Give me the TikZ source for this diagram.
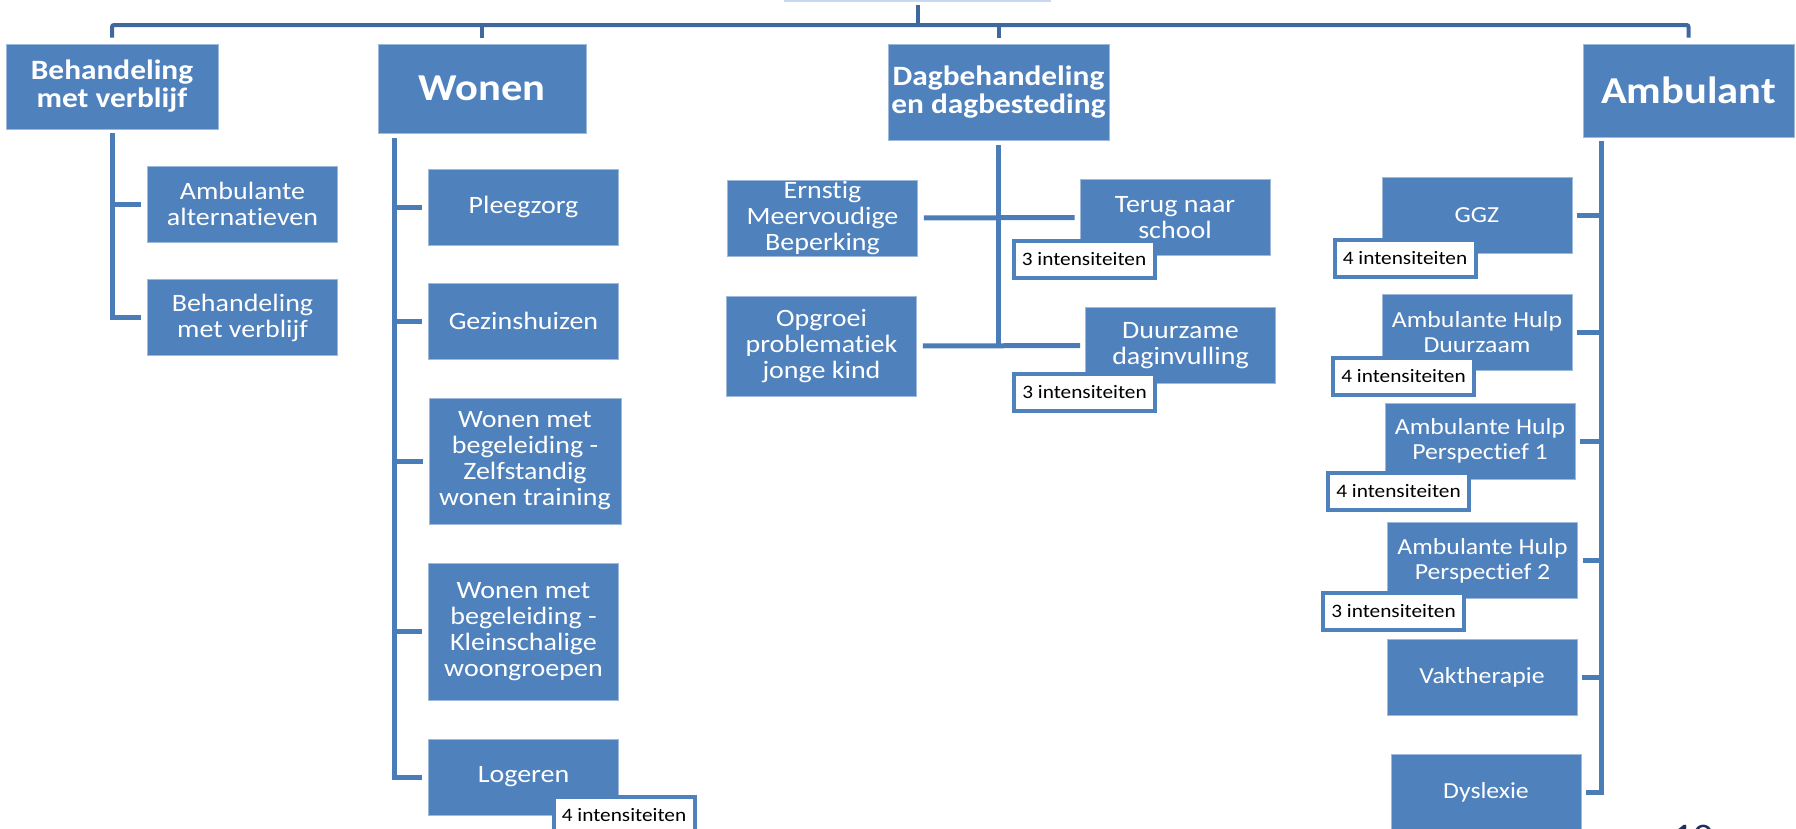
\documentclass[tikz,border=0pt]{standalone}
\usepackage{fontspec}
\setmainfont{Carlito}[FakeStretch=1.12, Ligatures=NoCommon]
\usepackage{tikz}
\usetikzlibrary{calc}
\definecolor{boxblue}{RGB}{79,129,189}
\definecolor{lineblue}{RGB}{74,124,184}
\definecolor{topblue}{RGB}{62,104,158}
\definecolor{rootblue}{RGB}{198,217,241}
\definecolor{navy}{RGB}{31,45,96}

\begin{document}
\begin{tikzpicture}[x=1pt, y=-1pt, line join=miter]
	\tikzstyle{box}=[rectangle, fill=boxblue, draw=boxblue!55!white, line width=0.8pt, text=white, align=center, inner sep=0pt, minimum width=190pt, minimum height=76pt, font=\fontsize{25}{26}\selectfont]
	\tikzstyle{abox}=[box, font=\fontsize{23}{25}\selectfont]
	\tikzstyle{head}=[box, font=\bfseries\fontsize{28}{28}\selectfont]
	\tikzstyle{bighead}=[box, font=\bfseries\fontsize{38}{40}\selectfont]
	\tikzstyle{badge}=[rectangle, fill=white, draw=boxblue, line width=4pt, text=black, inner sep=0pt, minimum width=141pt, minimum height=37pt, font=\fontsize{19}{20}\selectfont]
	\tikzstyle{conn}=[lineblue, line width=5pt]
	\tikzstyle{bus}=[topblue, line width=4pt, rounded corners=2pt]

	\useasboundingbox (0,0) rectangle (1796,828);
	\clip (0,0) rectangle (1796,828);

	\node[box, draw=rootblue, fill=white, line width=1.5pt, minimum width=265pt, minimum height=60pt] (root) at (917.5,-29) {};
	\node[head, minimum width=212pt, minimum height=85pt] (bmv) at (112,86.5) {Behandeling\\met verblijf};
	\node[bighead, minimum width=208pt, minimum height=89pt] (won) at (482,88.5) {Wonen};
	\node[head, minimum width=221pt, minimum height=96pt] (dag) at (998.5,92) {Dagbehandeling\\en dagbesteding};
	\node[bighead, minimum width=211pt, minimum height=93pt] (amb) at (1688.5,90.5) {Ambulant};

	\node[box] (bmv1) at (242.5,204) {Ambulante\\alternatieven};
	\node[box] (bmv2) at (242.5,317.5) {Behandeling\\met verblijf};

	\node[box] (won1) at (523.5,207) {Pleegzorg};
	\node[box] (won2) at (523.5,321) {Gezinshuizen};
	\node[box, minimum width=192pt, minimum height=126pt] (won3) at (525,461) {Wonen met\\begeleiding -\\Zelfstandig\\wonen training};
	\node[box, minimum height=137pt] (won4) at (523.5,631.5) {Wonen met\\begeleiding -\\Kleinschalige\\woongroepen};
	\node[box] (won5) at (523.5,777) {Logeren};

	\node[box] (dag1) at (822.5,218) {Ernstig\\Meervoudige\\Beperking};
	\node[box, minimum height=100pt] (dag2) at (821.5,346) {Opgroei\\problematiek\\jonge kind};
	\node[box] (dag3) at (1175,217.5) {Terug naar\\school};
	\node[box] (dag4) at (1180.5,345.5) {Duurzame\\daginvulling};

	\node[abox] (amb1) at (1477,215) {GGZ};
	\node[abox] (amb2) at (1477,332.5) {Ambulante Hulp\\Duurzaam};
	\node[abox] (amb3) at (1480,441) {Ambulante Hulp\\Perspectief 1};
	\node[abox] (amb4) at (1482.5,560.5) {Ambulante Hulp\\Perspectief 2};
	\node[abox] (amb5) at (1482,677.5) {Vaktherapie};
	\node[abox] (amb6) at (1486,792) {Dyslexie};

	\node[badge] (won5i) at (624,815) {4 intensiteiten};
	\node[badge] (dag3i) at (1084,259.5) {3 intensiteiten};
	\node[badge] (dag4i) at (1084.5,392) {3 intensiteiten};
	\node[badge] (amb1i) at (1405,258.5) {4 intensiteiten};
	\node[badge] (amb2i) at (1403.5,376) {4 intensiteiten};
	\node[badge] (amb3i) at (1398.5,491.5) {4 intensiteiten};
	\node[badge] (amb4i) at (1393.5,611) {3 intensiteiten};

	\node[text=navy, font=\fontsize{36}{36}\selectfont, anchor=base] (pnum) at (1693,848) {10};

	% top level
	\coordinate (bus) at (918,25);
	\draw[bus, shorten <=6pt, shorten >=6pt] (bmv.north) |- (bus) -| (amb.north);
	\draw[bus, shorten <=3pt] (root.south) -- (root.south |- bus);
	\draw[bus, shorten <=6pt] (won.north) -- (won.north |- bus);
	\draw[bus, shorten <=6pt] (dag.north) -- (dag.north |- bus);

	% Behandeling met verblijf
	\draw[conn, shorten <=4pt] (bmv.south) |- ([xshift=-6pt]bmv2.west);
	\draw[conn] ([xshift=-6pt]bmv1.west) -- (bmv1.west -| bmv.south);

	% Wonen
	\coordinate (wl) at ([xshift=17pt]won.south west);
	\draw[conn, shorten <=5pt] (wl) |- ([xshift=-6pt]won5.west);
	\foreach \i in {1,...,4}
		\draw[conn] ([xshift=-6pt]won\i.west) -- (won\i.west -| wl);

	% Dagbehandeling
	\draw[conn, shorten <=5pt] (dag.south) -- (dag.south |- dag2.east);
	\draw[conn, shorten <=6pt, shorten >=5pt] (dag1.east) -- (dag3.west);
	\draw[conn, shorten <=6pt, shorten >=5pt] (dag2.east) -- (dag4.west);

	% Ambulant
	\coordinate (al) at ([xshift=19pt]amb.south west);
	\draw[conn, shorten <=4pt] (al) |- ([xshift=5pt]amb6.east);
	\foreach \i in {1,...,5}
		\draw[conn] ([xshift=5pt]amb\i.east) -- (amb\i.east -| al);

\end{tikzpicture}
\end{document}
